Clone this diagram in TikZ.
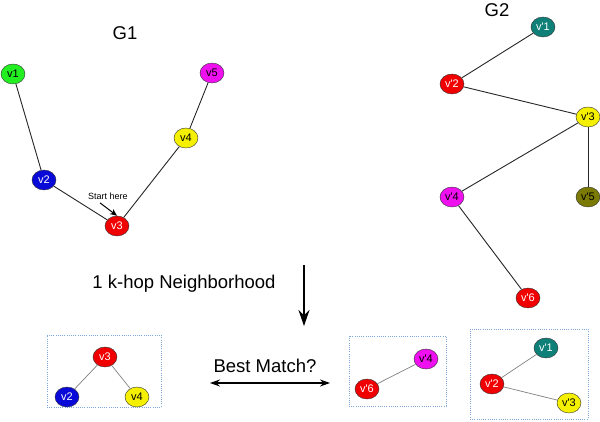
\documentclass[tikz,border=0pt]{standalone}
\usepackage{fontspec}
\setmainfont{Liberation Sans}
\usepackage{tikz}
\usetikzlibrary{shapes.geometric, arrows.meta}
\definecolor{vgreen}{HTML}{22EE22}
\definecolor{vblue}{HTML}{0A0AD8}
\definecolor{vred}{HTML}{F00000}
\definecolor{vyellow}{HTML}{F5F000}
\definecolor{vmagenta}{HTML}{EE10EE}
\definecolor{vteal}{HTML}{0E8078}
\definecolor{volive}{HTML}{7A7A05}
\definecolor{boxblue}{HTML}{7FA7D8}
\tikzstyle{vertex}  = [ellipse, draw=black!80, minimum width=24pt,
                       minimum height=20pt, inner sep=0pt,
                       font=\fontsize{11}{13}\selectfont]
\tikzstyle{edge}    = [draw=black!85, line width=0.9pt]
\tikzstyle{subedge} = [draw=black!50, line width=0.7pt]
\tikzstyle{hopbox}  = [rectangle, draw=boxblue, line width=0.8pt,
                       dash pattern=on 1pt off 1.2pt, inner sep=0pt]
\tikzstyle{title}   = [font=\fontsize{18.5}{22}\selectfont]
\tikzstyle{arrow}   = [-{Stealth[length=7pt,width=6pt]}, line width=1pt]
\newcommand{\vp}[1]{v\textquotesingle#1}

\begin{document}
\begin{tikzpicture}[x=1pt, y=-1pt]
  \useasboundingbox (0,0) rectangle (600,421);

  %% ── G1 ──
  \node[title] (g1) at (125,33) {G1};
  \node[vertex, fill=vgreen] (v1) at (13,74) {v1};
  \node[vertex, fill=vblue, text=white] (v2) at (44,180) {v2};
  \node[vertex, fill=vred, text=white] (v3) at (117,226) {v3};
  \node[vertex, fill=vyellow] (v4) at (186,138) {v4};
  \node[vertex, fill=vmagenta] (v5) at (212,73) {v5};
  \node[font=\fontsize{9}{11}\selectfont] (start) at (108,196) {Start here};

  \draw[edge] (v1) -- (v2);
  \draw[edge] (v2) -- (v3);
  \draw[edge] (v3) -- (v4);
  \draw[edge] (v4) -- (v5);
  \draw[arrow] ([xshift=-8pt]start.south) -- (v3.north);

  %% ── G2 ──
  \node[title] (g2) at (497,10) {G2};
  \node[vertex, fill=vteal, text=white] (w1) at (543,27) {\vp1};
  \node[vertex, fill=vred, text=white] (w2) at (452,84) {\vp2};
  \node[vertex, fill=vyellow] (w3) at (588,117) {\vp3};
  \node[vertex, fill=vmagenta] (w4) at (452,197) {\vp4};
  \node[vertex, fill=volive] (w5) at (588,197) {\vp5};
  \node[vertex, fill=vred, text=white] (w6) at (528,298) {\vp6};

  \draw[edge] (w1) -- (w2);
  \draw[edge] (w2) -- (w3);
  \draw[edge] (w3) -- (w4);
  \draw[edge] (w3) -- (w5);
  \draw[edge] (w4) -- (w6);

  %% ── Neighborhood ──
  \node[title] (hop) at (184,284) {1 k-hop Neighborhood};
  \coordinate (hoptop) at (304,265);
  \coordinate (hopend) at (304,326);
  \draw[-{Stealth[length=16pt,width=11pt]}, line width=2pt] (hoptop) -- (hopend);

  %% ── Subgraphs ──
  \node[hopbox, minimum width=114pt, minimum height=72pt] (box1) at (104,371) {};
  \node[vertex, fill=vred, text=white] (s3) at (105,357) {v3};
  \node[vertex, fill=vblue, text=white] (s2) at (67,397) {v2};
  \node[vertex, fill=vyellow] (s4) at (137,397) {v4};
  \draw[subedge] (s3) -- (s2);
  \draw[subedge] (s3) -- (s4);

  \node[hopbox, minimum width=97pt, minimum height=70pt] (box2) at (397.5,371) {};
  \node[vertex, fill=vmagenta] (t4) at (426,359) {\vp4};
  \node[vertex, fill=vred, text=white] (t6) at (367,389) {\vp6};
  \draw[subedge] (t6) -- (t4);

  \node[hopbox, minimum width=118pt, minimum height=90pt] (box3) at (529,374) {};
  \node[vertex, fill=vteal, text=white] (u1) at (546,348) {\vp1};
  \node[vertex, fill=vred, text=white] (u2) at (492,384) {\vp2};
  \node[vertex, fill=vyellow] (u3) at (569,403) {\vp3};
  \draw[subedge] (u2) -- (u1);
  \draw[subedge] (u2) -- (u3);

  %% ── Best match ──
  \node[title] (best) at (265,366) {Best Match?};
  \coordinate (bmleft) at (210,383);
  \coordinate (bmright) at (330,383);
  \draw[{Stealth[length=10pt,width=7pt]}-{Stealth[length=10pt,width=7pt]},
        line width=1.2pt] (bmleft) -- (bmright);

\end{tikzpicture}
\end{document}
